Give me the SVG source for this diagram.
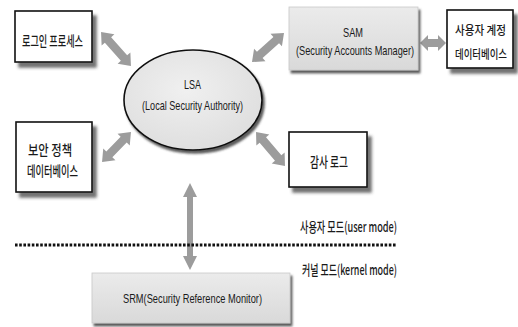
<svg xmlns="http://www.w3.org/2000/svg" width="518" height="327" viewBox="0 0 518 327">
  <defs>
    <filter id="boxShadow" x="-20%" y="-20%" width="150%" height="150%">
      <feGaussianBlur in="SourceAlpha" stdDeviation="1.6"/>
      <feOffset dx="4" dy="5" result="blur"/>
      <feFlood flood-color="#444" flood-opacity="0.75"/>
      <feComposite in2="blur" operator="in"/>
      <feMerge><feMergeNode/><feMergeNode in="SourceGraphic"/></feMerge>
    </filter>
    <filter id="softShadow" x="-20%" y="-20%" width="150%" height="150%">
      <feGaussianBlur in="SourceAlpha" stdDeviation="1"/>
      <feOffset dx="2" dy="3" result="blur"/>
      <feFlood flood-color="#333" flood-opacity="0.8"/>
      <feComposite in2="blur" operator="in"/>
      <feMerge><feMergeNode/><feMergeNode in="SourceGraphic"/></feMerge>
    </filter>
    <linearGradient id="grayFill" x1="0" y1="0" x2="0" y2="1">
      <stop offset="0" stop-color="#ebebeb"/>
      <stop offset="1" stop-color="#d9d9d9"/>
    </linearGradient>
    <radialGradient id="ellFill" cx="0.45" cy="0.4" r="0.7">
      <stop offset="0" stop-color="#f0f0f0"/>
      <stop offset="1" stop-color="#dcdcdc"/>
    </radialGradient>
  </defs>
  <style>
    .box { fill: #ffffff; stroke: #111; stroke-width: 1.6; filter: url(#boxShadow); }
    .gbox { fill: url(#grayFill); stroke: #c8c8c8; stroke-width: 0.8; filter: url(#softShadow); }
    .ko { font-family: "Noto Sans CJK KR", "Liberation Sans", sans-serif; font-size: 14px; font-weight: 500; fill: #1a1a1a; text-anchor: middle; }
    .ko.sm { font-size: 12.5px; }
    .en { font-family: "Liberation Sans", "Noto Sans CJK KR", sans-serif; font-size: 13.5px; fill: #1a1a1a; text-anchor: middle; }
    .arrow { fill: #9c9c9c; }
    .dots { stroke: #111; stroke-width: 3; stroke-dasharray: 2.6 1.6; fill: none; }
  </style>

  <rect width="518" height="327" fill="#ffffff"/>

  <!-- connectors: thick double-headed arrows -->
  <g id="connectors">
    <polygon class="arrow" transform="translate(116,49) rotate(48.6)" points="-22.6,0 -12.1,-8.5 -12.1,-4.2 12.1,-4.2 12.1,-8.5 22.6,0 12.1,8.5 12.1,4.2 -12.1,4.2 -12.1,8.5"/>
    <polygon class="arrow" transform="translate(268,47.5) rotate(-42.2)" points="-21.6,0 -11.1,-8.5 -11.1,-4.2 11.1,-4.2 11.1,-8.5 21.6,0 11.1,8.5 11.1,4.2 -11.1,4.2 -11.1,8.5"/>
    <polygon class="arrow" transform="translate(433,43)" points="-13,0 -5,-8 -5,-4 5,-4 5,-8 13,0 5,8 5,4 -5,4 -5,8"/>
    <polygon class="arrow" transform="translate(116.5,147) rotate(-46)" points="-20.8,0 -10.3,-8.5 -10.3,-4.2 10.3,-4.2 10.3,-8.5 20.8,0 10.3,8.5 10.3,4.2 -10.3,4.2 -10.3,8.5"/>
    <polygon class="arrow" transform="translate(270.5,149) rotate(49.5)" points="-22.3,0 -11.8,-8.5 -11.8,-4.2 11.8,-4.2 11.8,-8.5 22.3,0 11.8,8.5 11.8,4.2 -11.8,4.2 -11.8,8.5"/>
    <polygon class="arrow" transform="translate(190,226.5) rotate(90)" points="-43.5,0 -29.5,-7 -29.5,-3 29.5,-3 29.5,-7 43.5,0 29.5,7 29.5,3 -29.5,3 -29.5,7"/>
  </g>

  <!-- user / kernel mode boundary -->
  <g id="mode-boundary">
    <line class="dots" x1="15" y1="245" x2="397" y2="245"/>
    <text class="ko" x="348.5" y="231.5" textLength="97" lengthAdjust="spacingAndGlyphs">사용자 모드(user mode)</text>
    <text class="ko" x="349.5" y="274.5" textLength="95" lengthAdjust="spacingAndGlyphs">커널 모드(kernel mode)</text>
  </g>

  <g id="logon-process">
    <rect class="box" x="15" y="11" width="77" height="51"/>
    <text class="ko" x="52.5" y="45.5" textLength="61" lengthAdjust="spacingAndGlyphs">로그인 프로세스</text>
  </g>

  <g id="lsa">
    <ellipse cx="193" cy="100" rx="69" ry="50" fill="url(#ellFill)" stroke="#111" stroke-width="1.6" filter="url(#softShadow)"/>
    <text class="en" x="192.5" y="89" textLength="17" lengthAdjust="spacingAndGlyphs">LSA</text>
    <text class="en" x="192.5" y="110" textLength="101" lengthAdjust="spacingAndGlyphs">(Local Security Authority)</text>
  </g>

  <g id="sam">
    <rect class="gbox" x="289" y="7" width="129" height="63"/>
    <text class="en" x="353" y="37" textLength="20" lengthAdjust="spacingAndGlyphs">SAM</text>
    <text class="en" x="355" y="55" textLength="118" lengthAdjust="spacingAndGlyphs">(Security Accounts Manager)</text>
  </g>

  <g id="user-account-db">
    <rect class="box" x="447" y="10" width="66" height="58"/>
    <text class="ko sm" x="480.5" y="34.5" textLength="51" lengthAdjust="spacingAndGlyphs">사용자 계정</text>
    <text class="ko sm" x="481" y="58.5" textLength="52" lengthAdjust="spacingAndGlyphs">데이터베이스</text>
  </g>

  <g id="security-policy-db">
    <rect class="box" x="16" y="122" width="76" height="70"/>
    <text class="ko" x="50" y="155" textLength="44" lengthAdjust="spacingAndGlyphs">보안 정책</text>
    <text class="ko" x="52.5" y="176" textLength="51" lengthAdjust="spacingAndGlyphs">데이터베이스</text>
  </g>

  <g id="audit-log">
    <rect class="box" x="289" y="132" width="78" height="55"/>
    <text class="ko" x="329" y="167" textLength="38" lengthAdjust="spacingAndGlyphs">감사 로그</text>
  </g>

  <g id="srm">
    <rect class="gbox" x="92" y="273" width="198" height="50"/>
    <text class="en" x="192.5" y="303" textLength="139" lengthAdjust="spacingAndGlyphs">SRM(Security Reference Monitor)</text>
  </g>
</svg>
